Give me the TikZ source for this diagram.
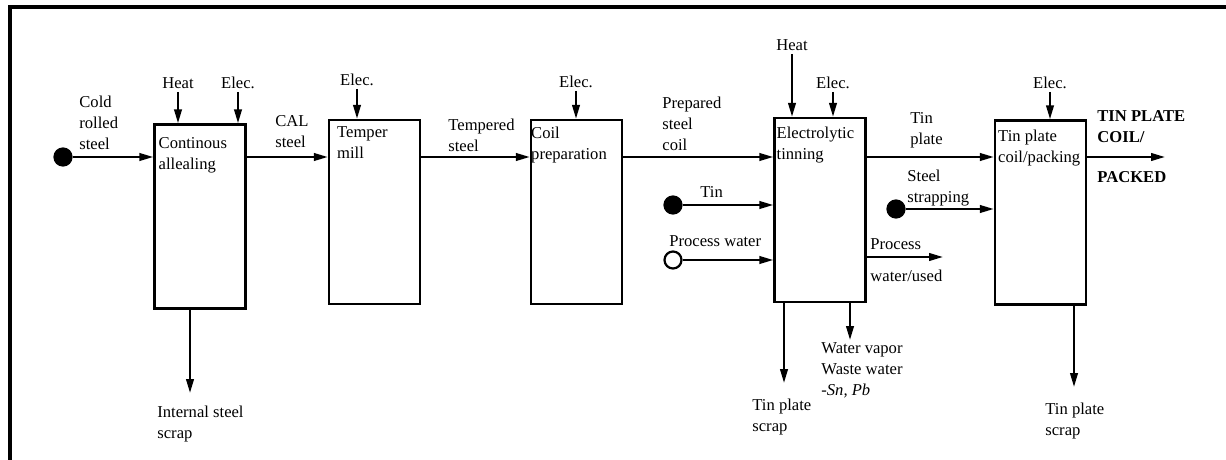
\documentclass[tikz,border=0pt]{standalone}
\usepackage{fontspec}
\setmainfont{Liberation Serif}
\usetikzlibrary{arrows.meta}

\begin{document}
\begin{tikzpicture}[x=0.5pt,y=-0.5pt,
  font=\fontsize{8.3}{10.5}\selectfont,
  box/.style={draw, line width=1.2pt, minimum width=45.5pt, minimum height=92pt, inner sep=0pt},
  txt/.style={anchor=north west, align=left, inner sep=0pt},
  top/.style={anchor=south, inner sep=1.5pt},
  flow/.style={line width=1.1pt, -{Triangle[length=7pt,width=3.8pt]}},
  src/.style={circle, draw, line width=1.1pt, minimum size=8.5pt, inner sep=0pt}]
  \useasboundingbox (0,0) rectangle (1226,460);
  \draw[line width=1.6pt] (10,460) -- (10,7) -- (1226,7);

  \node[box] (b1) at (200,216.5) {};
  \node[box] (b2) at (374.5,212) {};
  \node[box] (b3) at (576.5,212) {};
  \node[box] (b4) at (820,210) {};
  \node[box] (b5) at (1040.5,212.5) {};

  \node[txt] (t1) at ([shift={(5,14)}]b1.north west) {Continous\\allealing};
  \node[txt] (t2) at ([shift={(9,7)}]b2.north west) {Temper\\mill};
  \node[txt] (t3) at ([shift={(1,8)}]b3.north west) {Coil\\preparation};
  \node[txt] (t4) at ([shift={(3,10)}]b4.north west) {Electrolytic\\tinning};
  \node[txt] (t5) at ([shift={(4,10)}]b5.north west) {Tin plate\\coil/packing};

  \node[top] (h1) at (178,92) {Heat};
  \node[top] (e1) at (238,92) {Elec.};
  \node[top] (e2) at (357,89) {Elec.};
  \node[top] (e3) at (576,91) {Elec.};
  \node[top] (h4) at (792,54) {Heat};
  \node[top] (e4) at (833,92) {Elec.};
  \node[top] (e5) at (1050,92) {Elec.};
  \draw[flow] (h1) -- (h1 |- b1.north);
  \draw[flow] (e1) -- (e1 |- b1.north);
  \draw[flow] (e2) -- (e2 |- b2.north);
  \draw[flow] (e3) -- (e3 |- b3.north);
  \draw[flow] (h4) -- (h4 |- b4.north);
  \draw[flow] (e4) -- (e4 |- b4.north);
  \draw[flow] (e5) -- (e5 |- b5.north);

  \node[src, fill] (cold) at (63,157) {};
  \node[txt] (l0) at (79,96) {Cold\\rolled\\steel};
  \draw[flow] (cold) -- (cold -| b1.west);

  \draw[flow] (cold -| b1.east) -- (cold -| b2.west);
  \node[txt] (l1) at (275,115) {CAL\\steel};
  \draw[flow] (cold -| b2.east) -- (cold -| b3.west);
  \node[txt] (l2) at (448,119) {Tempered\\steel};
  \draw[flow] (cold -| b3.east) -- (cold -| b4.west);
  \node[txt] (l3) at (662,97) {Prepared\\steel\\coil};
  \draw[flow] (cold -| b4.east) -- (cold -| b5.west);
  \node[txt] (l4) at (910,112) {Tin\\plate};

  \node[src, fill] (tin) at (673,205) {};
  \node[txt] (l5) at (700,186) {Tin};
  \draw[flow] (tin) -- (tin -| b4.west);
  \node[src] (pw) at (673,260) {};
  \node[txt] (l6) at (669,235) {Process water};
  \draw[flow] (pw) -- (pw -| b4.west);

  \coordinate (pwu) at (943,257);
  \draw[flow] (b4.east |- pwu) -- (pwu);
  \node[txt] (l7) at (870,238) {Process};
  \node[txt] (l8) at (870,270) {water/used};

  \node[src, fill] (ss) at (896,209) {};
  \node[txt] (l9) at (907,170) {Steel\\strapping};
  \draw[flow] (ss) -- (ss -| b5.west);

  \coordinate (out) at (1165,157);
  \draw[flow] (cold -| b5.east) -- (out);
  \node[txt, font=\fontsize{8.3}{10.5}\selectfont\bfseries] (l10) at (1097,110) {TIN PLATE\\COIL/};
  \node[txt, font=\fontsize{8.3}{10.5}\selectfont\bfseries] (l11) at (1097,171) {PACKED};

  \coordinate (o1) at (190,393);
  \coordinate (o2) at (784,383);
  \coordinate (o3) at (850,340);
  \coordinate (o4) at (1074,387);
  \draw[flow] (b1.south -| o1) -- (o1);
  \draw[flow] (b4.south -| o2) -- (o2);
  \draw[flow] (b4.south -| o3) -- (o3);
  \draw[flow] (b5.south -| o4) -- (o4);
  \node[txt] (l12) at (157,406) {Internal steel\\scrap};
  \node[txt] (l13) at (752,399) {Tin plate\\scrap};
  \node[txt] (l14) at (821,342) {Water vapor\\Waste water\\-\textit{Sn, Pb}};
  \node[txt] (l15) at (1045,403) {Tin plate\\scrap};
\end{tikzpicture}
\end{document}
